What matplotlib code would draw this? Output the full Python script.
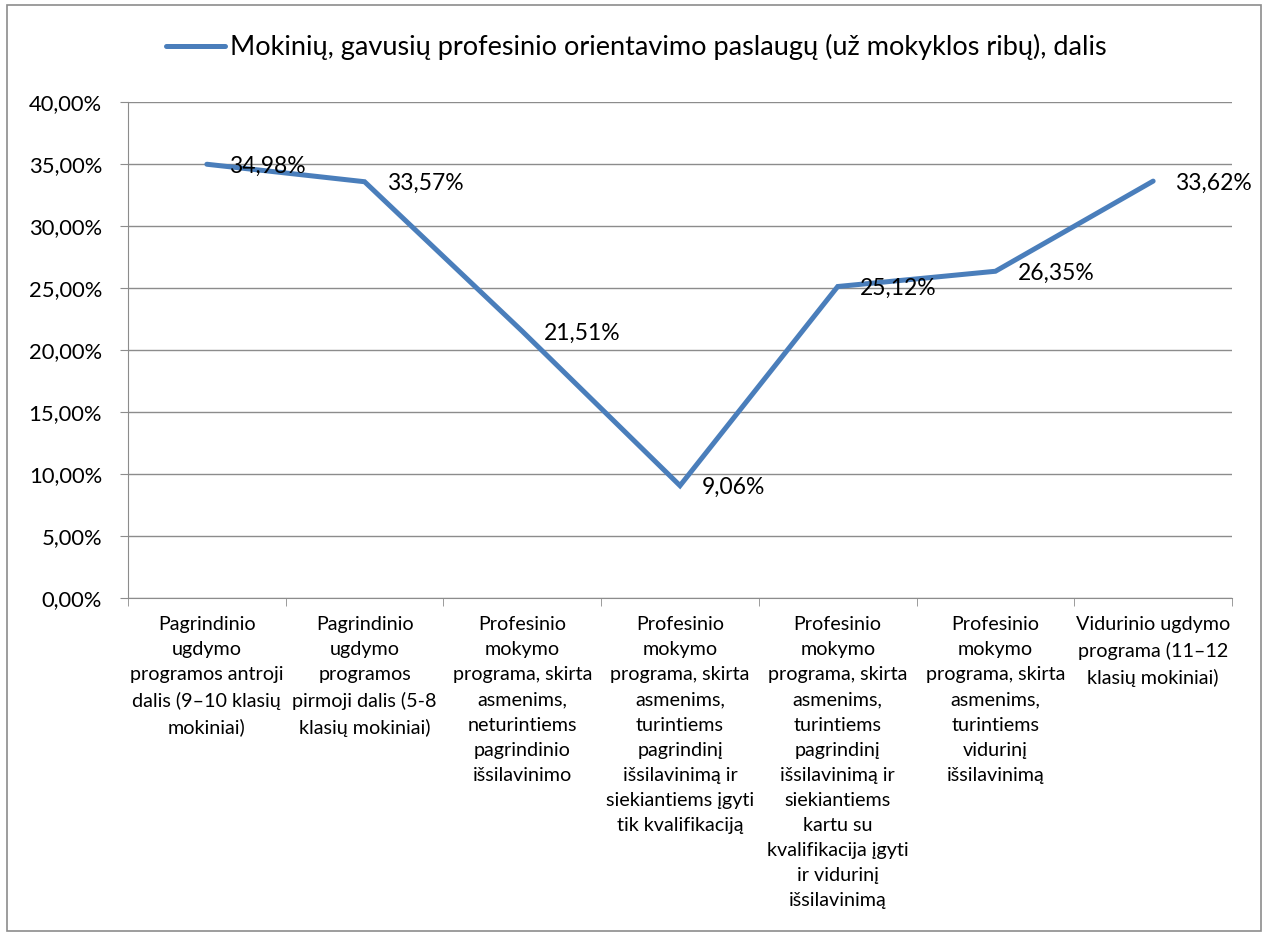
import matplotlib
matplotlib.use("Agg")
import matplotlib.pyplot as plt
from matplotlib.patches import Rectangle
from matplotlib.ticker import FixedLocator, FuncFormatter


# 数据
CATEGORIES = [
    "Pagrindinio\nugdymo\nprogramos antroji\ndalis (9–10 klasių\nmokiniai)",
    "Pagrindinio\nugdymo\nprogramos\npirmoji dalis (5-8\nklasių mokiniai)",
    "Profesinio\nmokymo\nprograma, skirta\nasmenims,\nneturintiems\npagrindinio\nišsilavinimo",
    "Profesinio\nmokymo\nprograma, skirta\nasmenims,\nturintiems\npagrindinį\nišsilavinimą ir\nsiekiantiems įgyti\ntik kvalifikaciją",
    "Profesinio\nmokymo\nprograma, skirta\nasmenims,\nturintiems\npagrindinį\nišsilavinimą ir\nsiekiantiems\nkartu su\nkvalifikacija įgyti\nir vidurinį\nišsilavinimą",
    "Profesinio\nmokymo\nprograma, skirta\nasmenims,\nturintiems\nvidurinį\nišsilavinimą",
    "Vidurinio ugdymo\nprograma (11–12\nklasių mokiniai)",
]
VALUES = [34.98, 33.57, 21.51, 9.06, 25.12, 26.35, 33.62]
SERIES_NAME = "Mokinių, gavusių profesinio orientavimo paslaugų (už mokyklos ribų), dalis"

LINE_COLOR = "#4A7EBB"
GRID_COLOR = "#8C8C8C"
PX = 0.72  # 1 像素 = 0.72 pt（dpi=100）

plt.rcParams['font.family'] = ['Lato', 'DejaVu Sans']


def pct(v, _pos=None):
    return f"{v:.2f}%".replace(".", ",")


fig = plt.figure(figsize=(12.67, 9.36), dpi=100)
W, H = 1267, 936

# 外框
fig.patches.append(Rectangle((7 / W, 5 / H), 1254 / W, 926 / H, transform=fig.transFigure,
                             fill=False, edgecolor="#8C8C8C", linewidth=1.2))

ax = fig.add_axes([128 / W, (H - 598) / H, (1232 - 128) / W, (598 - 102) / H])

x = list(range(len(VALUES)))
line, = ax.plot(x, VALUES, color=LINE_COLOR, linewidth=3.6, solid_capstyle="round",
                solid_joinstyle="miter", label=SERIES_NAME)

# 数据标签：点右侧
for xi, v in zip(x, VALUES):
    ax.annotate(pct(v), (xi, v), xytext=(22 * PX, -2 * PX), textcoords="offset points",
                ha="left", va="center", fontsize=16.5)

ax.set_xlim(-0.5, len(VALUES) - 0.5)
ax.set_ylim(0, 40)
ax.set_yticks([i * 5 for i in range(9)])
ax.yaxis.set_major_formatter(FuncFormatter(pct))
ax.grid(axis="y", color=GRID_COLOR, linewidth=1)
ax.set_axisbelow(True)

ax.set_xticks(x)
ax.set_xticklabels(CATEGORIES, fontsize=14.2, linespacing=1.58, ha="center", va="top")
ax.xaxis.set_minor_locator(FixedLocator([i - 0.5 for i in range(len(VALUES) + 1)]))
ax.tick_params(axis="x", which="major", length=0, pad=13)
ax.tick_params(axis="x", which="minor", length=8 * PX, color=GRID_COLOR)
ax.tick_params(axis="y", length=8 * PX, color=GRID_COLOR, labelsize=15.8, pad=18 * PX)

for side in ("top", "right"):
    ax.spines[side].set_visible(False)
for side in ("left", "bottom"):
    ax.spines[side].set_color(GRID_COLOR)

fig.legend(handles=[line], loc="center", bbox_to_anchor=(636 / W, (H - 47) / H),
           frameon=False, fontsize=19.5, handlelength=2.2, handletextpad=0.15)

fig.savefig("out.png", dpi=100)
plt.close(fig)
